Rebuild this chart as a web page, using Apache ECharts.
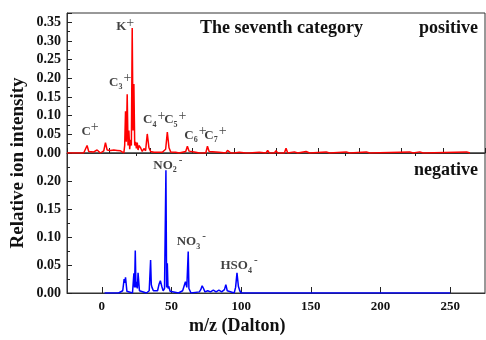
<!DOCTYPE html>
<html>
<head>
<meta charset="utf-8">
<script src="https://cdn.jsdelivr.net/npm/echarts@6/dist/echarts.min.js"></script>
<style>
html,body{margin:0;padding:0;background:#fff;}
#c{width:486px;height:340px;}
</style>
</head>
<body>
<div id="c"></div>
<script>
// ---------- DATA ----------
// Positive spectrum (m/z, relative intensity)
const posMz  = [0, 10, 11, 12, 13, 14, 16, 17, 18, 19, 20, 21, 22, 23, 24, 25, 26, 27, 28, 29, 30, 31, 32, 33, 34, 34.5, 35, 35.5, 36, 36.5, 37, 37.5, 38, 38.5, 39, 39.5, 40, 40.5, 41, 41.5, 42, 42.5, 43, 44, 45, 46, 47, 48, 49, 50, 51, 52, 53, 55, 56, 57, 58, 59, 60, 61, 62, 63, 65, 67, 69, 70, 71, 72, 73, 74, 77, 79, 83, 84, 85, 86, 91, 95, 96, 97, 98, 99, 100, 103, 107, 108, 109, 115, 119, 120, 121, 124, 125, 126, 130, 131, 132, 133, 136, 137, 138, 143, 144, 145, 155, 156, 157, 167, 168, 169, 179, 180, 181, 205, 206, 207, 211, 212, 213, 239, 240, 241, 250];
const posInt = [0, 0, 0.004, 0.020, 0.004, 0, 0.003, 0.006, 0.008, 0.003, 0, 0, 0.006, 0.028, 0.008, 0.003, 0.007, 0.005, 0.008, 0.006, 0.007, 0.005, 0.006, 0.002, 0, 0.02, 0.112, 0.03, 0.157, 0.02, 0.06, 0.01, 0.035, 0.02, 0.335, 0.06, 0.185, 0.02, 0.03, 0.012, 0.028, 0.008, 0.02, 0.014, 0.004, 0.012, 0.006, 0.051, 0.014, 0.004, 0.005, 0.002, 0, 0.002, 0.004, 0.002, 0, 0.01, 0.056, 0.014, 0.003, 0, 0.002, 0, 0.002, 0, 0.004, 0.018, 0.005, 0, 0.002, 0, 0, 0.018, 0.004, 0, 0.002, 0, 0.007, 0.002, 0, 0.004, 0, 0.002, 0, 0.004, 0, 0.002, 0, 0.007, 0, 0, 0.006, 0, 0, 0.013, 0, 0, 0.003, 0, 0, 0.004, 0, 0, 0.003, 0, 0, 0.003, 0, 0, 0.003, 0, 0, 0.003, 0, 0, 0.003, 0, 0, 0.003, 0, 0];

// Negative spectrum (m/z, relative intensity)
const negMz  = [2, 12, 13, 15, 16, 16.5, 17, 18, 22, 23, 23.5, 24, 24.5, 25, 25.5, 26, 27, 32, 34, 35, 35.5, 36, 37, 40, 41, 42, 43, 44, 45, 45.5, 46, 46.5, 47, 47.5, 48, 49, 50, 55, 58, 59, 60, 61, 61.5, 62, 62.5, 63, 64, 70, 71, 72, 73, 74, 76, 77, 78, 79, 80, 81, 82, 83, 84, 85, 86, 87, 88, 89, 90, 95, 96, 97, 98, 99, 100, 104, 105, 106, 112, 113, 114, 120, 121, 122, 130, 131, 132, 250];
const negInt = [0, 0, 0.002, 0.004, 0.025, 0.018, 0.028, 0.003, 0, 0.035, 0.01, 0.076, 0.01, 0.02, 0.008, 0.036, 0.004, 0, 0.004, 0.059, 0.015, 0.01, 0.004, 0.004, 0.015, 0.022, 0.012, 0.004, 0.008, 0.01, 0.219, 0.01, 0.053, 0.008, 0.012, 0.003, 0, 0, 0.004, 0.012, 0.02, 0.01, 0.008, 0.074, 0.008, 0.006, 0, 0.002, 0.006, 0.013, 0.008, 0.002, 0.004, 0.006, 0.002, 0.004, 0.005, 0.006, 0.002, 0.003, 0.005, 0.004, 0.002, 0.005, 0.006, 0.015, 0.004, 0, 0.01, 0.036, 0.012, 0.004, 0, 0, 0.003, 0, 0, 0.003, 0, 0, 0.003, 0, 0, 0.002, 0, 0];

// Peak annotations
const posIonMz   = [12, 36, 39, 48, 60, 72, 84];
const posIonInt  = [0.020, 0.157, 0.335, 0.051, 0.056, 0.018, 0.018];
const posIonName = ['C', 'C3', 'K', 'C4', 'C5', 'C6', 'C7'];
const negIonMz   = [46, 62, 97];
const negIonInt  = [0.219, 0.074, 0.036];
const negIonName = ['NO2', 'NO3', 'HSO4'];

// Axis ticks / labels
const xLabelTicks = [0, 50, 100, 150, 200, 250];
const xMinorTicks = [25, 75, 125, 175, 225];

// ---------- CHART ----------
const FONT = '"Liberation Serif","Times New Roman",serif';
const TXT = '#111';
const posLabelOffsets = [[3,-14],[-7,-12],[-7,-1],[7,-14],[8,-12],[8,-11],[8,-11]];
const negLabelOffsets = [[2,-5],[3,-10],[2,-7]];

function richIon(name, sign) {
  const m = name.match(/^([A-Za-z]+)(\d*)$/);
  let s = '{m|' + m[1] + '}';
  if (m[2]) s += '{sub|' + m[2] + '}';
  s += (sign === '+' ? '{sup|+}' : '{supm|-}');
  return s;
}
const rich = {
  m:   {fontFamily: FONT, fontWeight: 'bold', fontSize: 13, color: TXT, lineHeight: 22, verticalAlign: 'middle'},
  sub: {fontFamily: FONT, fontWeight: 'bold', fontSize: 8, color: TXT, lineHeight: 22, verticalAlign: 'bottom', padding: [0,1,2,0]},
  sup: {fontFamily: FONT, fontWeight: 'normal', fontSize: 14, color: TXT, lineHeight: 22, verticalAlign: 'top'},
  supm:{fontFamily: FONT, fontWeight: 'bold', fontSize: 11, color: TXT, lineHeight: 22, verticalAlign: 'top', padding:[0,0,0,1]}
};

const posData = posMz.map((x, i) => [x, posInt[i]]);
const negData = negMz.map((x, i) => [x, negInt[i]]);
const posAnn = posIonMz.map((x, i) => ({
  value: [x, posIonInt[i]],
  label: {formatter: richIon(posIonName[i], '+'), offset: posLabelOffsets[i]}
}));
const negAnn = negIonMz.map((x, i) => ({
  value: [x, negIonInt[i]],
  label: {formatter: richIon(negIonName[i], '-'), offset: negLabelOffsets[i]}
}));

const axisLineStyle = {color: '#333', width: 1};
const chart = echarts.init(document.getElementById('c'), null, {renderer: 'canvas'});
chart.setOption({
  animation: false,
  backgroundColor: '#fff',
  grid: [
    {left: 67, right: 1, top: 13, height: 140, show: true, borderColor: '#333', borderWidth: 1, backgroundColor: 'transparent'},
    {left: 67, right: 1, top: 153, height: 140, show: true, borderColor: '#333', borderWidth: 1, backgroundColor: 'transparent'}
  ],
  xAxis: [
    {gridIndex: 0, type: 'value', min: 0, max: 250, interval: 25,
     axisLine: {show: true, onZero: false, lineStyle: axisLineStyle},
     axisTick: {show: true, inside: true, length: 5, lineStyle: {color: '#222'}},
     axisLabel: {show: false}, splitLine: {show: false}},
    {gridIndex: 1, type: 'value', min: -25, max: 275,
     axisLine: {show: true, onZero: false, lineStyle: axisLineStyle},
     axisTick: {show: true, inside: true, length: 6, customValues: xLabelTicks, lineStyle: {color: '#222'}},
     axisLabel: {show: true, customValues: xLabelTicks, margin: 7, fontFamily: FONT, fontWeight: 'bold', fontSize: 13, color: TXT},
     splitLine: {show: false}},
    {gridIndex: 1, type: 'value', min: -25, max: 275,
     axisLine: {show: false, onZero: false},
     axisTick: {show: true, inside: true, length: 3, customValues: xMinorTicks, lineStyle: {color: '#222'}},
     axisLabel: {show: false}, splitLine: {show: false}}
  ],
  yAxis: [
    {gridIndex: 0, type: 'value', min: 0, max: 0.375, interval: 0.05,
     axisLine: {show: true, onZero: false, lineStyle: axisLineStyle},
     axisTick: {show: true, inside: true, length: 5, lineStyle: {color: '#222'}},
     minorTick: {show: true, splitNumber: 2, length: 3, lineStyle: {color: '#222'}},
     axisLabel: {showMaxLabel: false, margin: 6, fontFamily: FONT, fontWeight: 'bold', fontSize: 14, color: TXT,
                 formatter: v => v.toFixed(2)},
     splitLine: {show: false}},
    {gridIndex: 1, type: 'value', min: 0, max: 0.25, interval: 0.05,
     axisLine: {show: true, onZero: false, lineStyle: axisLineStyle},
     axisTick: {show: true, inside: true, length: 5, lineStyle: {color: '#222'}},
     minorTick: {show: true, splitNumber: 2, length: 3, lineStyle: {color: '#222'}},
     axisLabel: {showMaxLabel: false, margin: 6, fontFamily: FONT, fontWeight: 'bold', fontSize: 14, color: TXT,
                 formatter: v => v.toFixed(2)},
     splitLine: {show: false}}
  ],
  series: [
    {type: 'line', xAxisIndex: 0, yAxisIndex: 0, data: posData, showSymbol: false, symbol: 'none',
     lineStyle: {color: '#ff0000', width: 1.5}, z: 3},
    {type: 'line', xAxisIndex: 1, yAxisIndex: 1, data: negData, showSymbol: false, symbol: 'none',
     lineStyle: {color: '#0000ff', width: 1.5}, z: 3},
    {type: 'scatter', xAxisIndex: 0, yAxisIndex: 0, data: posAnn, symbolSize: 0, silent: true, z: 5,
     label: {show: true, position: 'inside', rich: rich}},
    {type: 'scatter', xAxisIndex: 1, yAxisIndex: 1, data: negAnn, symbolSize: 0, silent: true, z: 5,
     label: {show: true, position: 'inside', rich: rich}}
  ],
  graphic: [
    {type: 'text', left: 200, top: 19, style: {text: 'The seventh category', font: 'bold 18px ' + FONT, fill: TXT}},
    {type: 'text', right: 8, top: 19, style: {text: 'positive', font: 'bold 18px ' + FONT, fill: TXT}},
    {type: 'text', right: 8, top: 161, style: {text: 'negative', font: 'bold 18px ' + FONT, fill: TXT}},
    {type: 'text', left: 189, top: 317, style: {text: 'm/z (Dalton)', font: 'bold 18px ' + FONT, fill: TXT}},
    {type: 'text', x: 18, y: 163, rotation: Math.PI / 2,
     style: {text: 'Relative ion intensity', font: 'bold 19px ' + FONT, fill: TXT, align: 'center', verticalAlign: 'middle'}}
  ]
});
</script>
</body>
</html>
